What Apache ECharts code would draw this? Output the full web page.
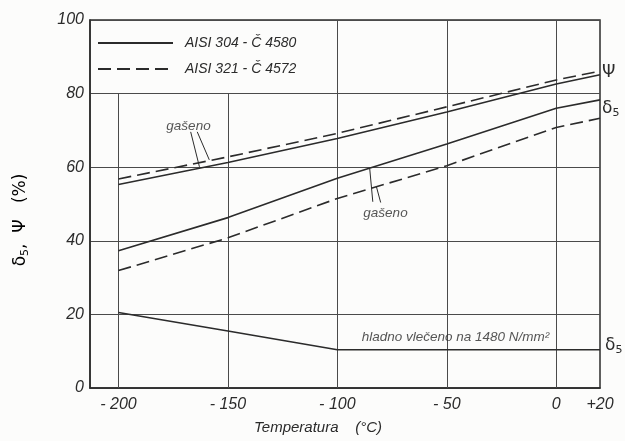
<!DOCTYPE html>
<html>
<head>
<meta charset="utf-8">
<script src="https://cdn.jsdelivr.net/npm/echarts@6/dist/echarts.min.js"></script>
<style>
  html, body { margin: 0; padding: 0; background: #fcfcfb; }
  #chart { width: 625px; height: 441px; }
</style>
</head>
<body>
<div id="chart"></div>
<script>
// Temperature points (°C)
const temps = [-200, -150, -100, -50, 0, 20];
// Reduction of area Ψ (%), quenched
const psi304 = [55.3, 61.3, 67.8, 75.0, 82.6, 85.1];
const psi321 = [56.8, 62.8, 69.2, 76.4, 83.7, 86.1];
// Elongation δ5 (%), quenched
const delta304 = [37.3, 46.3, 57.0, 66.3, 76.0, 78.3];
const delta321 = [31.9, 40.8, 51.5, 60.4, 70.8, 73.3];
// Elongation δ5 (%), cold drawn to 1480 N/mm²
const deltaCold = [20.5, 15.5, 10.4, 10.4, 10.4, 10.4];

const xTicks = [-200, -150, -100, -50, 0, 20];
const vGridTall = [-100, -50, 0];   // run through the legend band
const vGridShort = [-200, -150];    // stop under the legend box

const name304 = 'AISI 304 - Č 4580';
const name321 = 'AISI 321 - Č 4572';

// Notes: [temperature, value, text]
const notes = [
  [-168, 71.2, 'gašeno'],
  [-78, 47.6, 'gašeno'],
  [-46, 13.8, 'hladno vlečeno na 1480 N/mm²']
];
// Leader lines from the notes to the curves
const leaders = [
  [[-167, 69.6], [-163, 60.1]],
  [[-164, 69.6], [-158.5, 62.0]],
  [[-85.2, 59.6], [-83.8, 50.6]],
  [[-82.2, 54.8], [-80.2, 50.4]]
];

const ink = '#2b2b2b';
const gridInk = '#4a4a4a';
const font = 'Liberation Sans';

const zip = arr => temps.map((t, i) => [t, arr[i]]);

const rich = {
  g: { fontFamily: 'DejaVu Sans', fontSize: 17, color: ink },
  s: { fontFamily: 'DejaVu Sans', fontSize: 11, color: ink, padding: [9, 0, 0, 0] }
};

function curve(name, data, dashed, endText, endOffset) {
  const s = {
    name, type: 'line', data: zip(data), symbol: 'none', showSymbol: false, z: 5,
    lineStyle: { color: ink, width: 1.6, type: dashed ? [13, 6] : 'solid' },
    itemStyle: { color: ink }
  };
  if (endText) {
    s.endLabel = {
      show: true, formatter: endText, offset: endOffset, distance: 2,
      rich, color: ink
    };
  }
  return s;
}

const gridSegments = []
  .concat(vGridTall.map(t => [{ coord: [t, 0] }, { coord: [t, 100] }]))
  .concat(vGridShort.map(t => [{ coord: [t, 0] }, { coord: [t, 80] }]));

const chart = echarts.init(document.getElementById('chart'), null, { renderer: 'canvas' });
chart.setOption({
  animation: false,
  backgroundColor: '#fcfcfb',
  grid: { left: 90, right: 25, top: 20, bottom: 53, show: true, borderColor: ink, borderWidth: 1.5, backgroundColor: 'transparent' },
  legend: {
    data: [name304, name321],
    orient: 'vertical', left: 92, top: 31,
    itemWidth: 75, itemHeight: 14, itemGap: 12,
    selectedMode: false,
    itemStyle: { opacity: 0 },
    textStyle: { fontFamily: font, fontStyle: 'italic', fontSize: 14, color: ink, padding: [0, 0, 0, 7] }
  },
  xAxis: {
    type: 'value', min: -213, max: 20,
    axisLine: { show: true, onZero: false, lineStyle: { color: ink, width: 1.5 } },
    axisTick: { show: false },
    splitLine: { show: false },
    axisLabel: {
      customValues: xTicks, margin: 9,
      fontFamily: font, fontStyle: 'italic', fontSize: 16, color: ink,
      formatter: v => (v > 0 ? '+' + v : (v < 0 ? '- ' + (-v) : '0'))
    }
  },
  yAxis: {
    type: 'value', min: 0, max: 100, interval: 20,
    axisLine: { show: true, onZero: false, lineStyle: { color: ink, width: 1.5 } },
    axisTick: { show: false },
    splitLine: { show: true, lineStyle: { color: gridInk, width: 1 } },
    axisLabel: { margin: 6, fontFamily: font, fontStyle: 'italic', fontSize: 16, color: ink }
  },
  graphic: [
    {
      type: 'text', x: 21, y: 220, rotation: Math.PI / 2,
      style: {
        text: '{g|δ}{s|5}{g|,  Ψ   (%)}', rich,
        align: 'center', verticalAlign: 'middle'
      }
    },
    {
      type: 'text', x: 318, y: 428,
      style: {
        text: 'Temperatura    (°C)', fill: ink,
        font: 'italic 15px "Liberation Sans"',
        align: 'center', verticalAlign: 'middle'
      }
    }
  ],
  series: [
    {
      name: 'grid', type: 'line', data: [], silent: true, z: 1,
      markLine: {
        silent: true, symbol: 'none', label: { show: false },
        lineStyle: { color: gridInk, width: 1, type: 'solid' },
        data: gridSegments
      }
    },
    curve(name304, psi304, false),
    curve(name321, psi321, true, '{g|Ψ}', [0, 1]),
    curve(name304, delta304, false, '{g|δ}{s|5}', [0, 9]),
    curve(name321, delta321, true),
    curve(name304, deltaCold, false, '{g|δ}{s|5}', [3, -4]),
    {
      name: 'leaders', type: 'lines', coordinateSystem: 'cartesian2d', silent: true, z: 4,
      polyline: false,
      lineStyle: { color: ink, width: 1, opacity: 1 },
      data: leaders.map(c => ({ coords: c }))
    },
    {
      name: 'notes', type: 'scatter', symbolSize: 0, silent: true, z: 6,
      data: notes.map(n => ({ value: [n[0], n[1]], text: n[2] })),
      label: {
        show: true, position: 'inside',
        fontFamily: font, fontStyle: 'italic', fontSize: 13.5, color: ink,
        formatter: p => p.data.text
      }
    }
  ]
});
</script>
</body>
</html>
